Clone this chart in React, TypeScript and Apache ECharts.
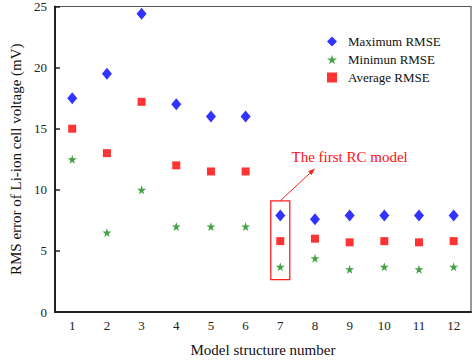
import React, { useEffect, useRef } from "react";
import * as echarts from "echarts";

const categories = ["1", "2", "3", "4", "5", "6", "7", "8", "9", "10", "11", "12"];
const maxRmse = [17.5, 19.5, 24.4, 17.0, 16.0, 16.0, 7.9, 7.6, 7.9, 7.9, 7.9, 7.9];
const minRmse = [12.5, 6.5, 10.0, 7.0, 7.0, 7.0, 3.7, 4.4, 3.5, 3.7, 3.5, 3.7];
const avgRmse = [15.0, 13.0, 17.2, 12.0, 11.5, 11.5, 5.8, 6.0, 5.7, 5.8, 5.7, 5.8];
const seriesNames = ["Maximum RMSE", "Minimun RMSE", "Average RMSE"];
const annotationText = "The first RC model";

const STAR =
  "path://M50,0 L61,35 L98,35 L68,57 L79,91 L50,70 L21,91 L32,57 L2,35 L39,35 Z";
const FONT = "Liberation Serif";

export default function App() {
  const ref = useRef<HTMLDivElement>(null);
  useEffect(() => {
    document.body.style.margin = "0";
    if (!ref.current) return;
    const chart = echarts.init(ref.current, undefined, { renderer: "svg" });
    chart.setOption({
      animation: false,
      backgroundColor: "#ffffff",
      textStyle: { fontFamily: FONT },
      grid: {
        left: 46,
        right: 3,
        top: 6,
        bottom: 45,
        show: true,
        borderColor: "#555",
        borderWidth: 1.2,
      },
      legend: {
        orient: "vertical",
        left: 322,
        top: 30,
        itemWidth: 10,
        itemHeight: 10,
        itemGap: 5,
        textStyle: { fontFamily: FONT, fontSize: 13, color: "#111", padding: [0, 0, 0, 6] },
        data: [
          { name: seriesNames[0], icon: "diamond" },
          { name: seriesNames[1], icon: STAR },
          { name: seriesNames[2], icon: "rect" },
        ],
      },
      xAxis: {
        type: "category",
        data: categories,
        boundaryGap: true,
        name: "Model structure number",
        nameLocation: "middle",
        nameGap: 30,
        nameTextStyle: { fontFamily: FONT, fontSize: 15, color: "#111" },
        axisLine: { lineStyle: { color: "#222", width: 2 } },
        axisTick: { alignWithLabel: true, inside: true, length: 5, lineStyle: { color: "#222", width: 1.5 } },
        axisLabel: { fontFamily: FONT, fontSize: 13, color: "#222", margin: 7 },
        splitLine: { show: false },
      },
      yAxis: {
        type: "value",
        min: 0,
        max: 25,
        interval: 5,
        name: "RMS error of Li-ion cell voltage (mV)",
        nameLocation: "middle",
        nameGap: 26,
        nameTextStyle: { fontFamily: FONT, fontSize: 15, color: "#111" },
        axisLine: { show: true, lineStyle: { color: "#222", width: 2 } },
        axisTick: { show: true, inside: true, length: 5, lineStyle: { color: "#222", width: 1.5 } },
        axisLabel: { fontFamily: FONT, fontSize: 13, color: "#222", margin: 8 },
        splitLine: { show: false },
      },
      series: [
        {
          name: seriesNames[0],
          type: "scatter",
          symbol: "diamond",
          symbolSize: [10, 12],
          itemStyle: { color: "#0000ff" },
          data: maxRmse,
        },
        {
          name: seriesNames[1],
          type: "scatter",
          symbol: STAR,
          symbolSize: 9,
          itemStyle: { color: "#138a13" },
          data: minRmse,
        },
        {
          name: seriesNames[2],
          type: "scatter",
          symbol: "rect",
          symbolSize: 8,
          itemStyle: { color: "#ff0000" },
          data: avgRmse,
        },
      ],
    });

    const px = (x: number, y: number) => chart.convertToPixel({ gridIndex: 0 }, [x, y]) as number[];
    const rTop = px(6, 9.1);
    const rBot = px(6, 2.65);
    const rectW = 19;
    const a0 = px(6.07, 9.1);
    const a1 = px(6.63, 11.75);
    const dx = a1[0] - a0[0];
    const dy = a1[1] - a0[1];
    const len = Math.sqrt(dx * dx + dy * dy);
    const ux = dx / len;
    const uy = dy / len;
    const hl = 7;
    const hw = 2.5;
    const base = [a1[0] - ux * hl, a1[1] - uy * hl];
    const txt = px(7.86, 12.7);

    chart.setOption({
      graphic: [
        {
          type: "rect",
          shape: { x: rTop[0] - rectW / 2, y: rTop[1], width: rectW, height: rBot[1] - rTop[1] },
          style: { fill: "none", stroke: "#ff2020", lineWidth: 1.3 },
        },
        {
          type: "line",
          shape: { x1: a0[0], y1: a0[1], x2: base[0], y2: base[1] },
          style: { stroke: "#ff2020", lineWidth: 1 },
        },
        {
          type: "polygon",
          shape: {
            points: [
              [a1[0], a1[1]],
              [base[0] - uy * hw, base[1] + ux * hw],
              [base[0] + uy * hw, base[1] - ux * hw],
            ],
          },
          style: { fill: "#ff2020" },
        },
        {
          type: "text",
          x: txt[0],
          y: txt[1],
          style: {
            text: annotationText,
            fill: "#ff1010",
            font: `15px "${FONT}"`,
            align: "center",
            verticalAlign: "middle",
          },
        },
      ],
    });

    return () => chart.dispose();
  }, []);
  return <div ref={ref} style={{ width: 474, height: 362 }} />;
}
